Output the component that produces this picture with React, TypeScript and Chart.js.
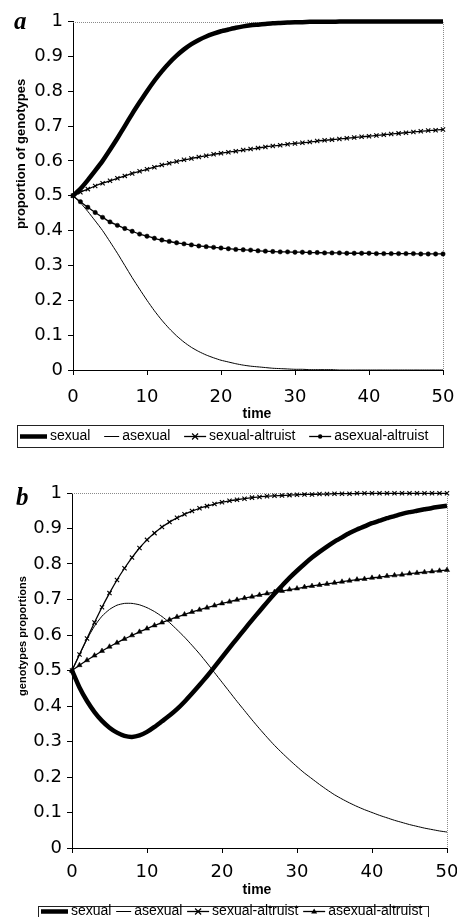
import React, { useEffect, useRef } from "react";
import { Chart, registerables } from "chart.js";

Chart.register(...registerables);

// ---------------- data ----------------
const TIME = [
  0, 1, 2, 3, 4, 5, 6, 7, 8, 9, 10, 11, 12, 13, 14, 15, 16, 17, 18, 19, 20, 21, 22, 23, 24, 25,
  26, 27, 28, 29, 30, 31, 32, 33, 34, 35, 36, 37, 38, 39, 40, 41, 42, 43, 44, 45, 46, 47, 48, 49, 50,
];

const A_SEXUAL = [
  0.5, 0.52, 0.545, 0.572, 0.6, 0.632, 0.665, 0.7, 0.735, 0.768, 0.8, 0.83, 0.857, 0.881, 0.902,
  0.92, 0.935, 0.947, 0.957, 0.965, 0.972, 0.977, 0.982, 0.986, 0.989, 0.991, 0.993, 0.995, 0.996,
  0.997, 0.998, 0.998, 0.999, 0.999, 0.999, 0.999, 1, 1, 1, 1, 1, 1, 1, 1, 1, 1, 1, 1, 1, 1, 1,
];
const A_ASEXUAL = [
  0.5, 0.48, 0.455, 0.428, 0.4, 0.368, 0.335, 0.3, 0.265, 0.232, 0.2, 0.17, 0.143, 0.119, 0.098,
  0.08, 0.065, 0.053, 0.043, 0.035, 0.028, 0.023, 0.018, 0.014, 0.011, 0.009, 0.007, 0.005, 0.004,
  0.003, 0.002, 0.002, 0.001, 0.001, 0.001, 0.001, 0, 0, 0, 0, 0, 0, 0, 0, 0, 0, 0, 0, 0, 0, 0,
];
const A_SEXUAL_ALTRUIST = [
  0.5, 0.51, 0.519, 0.528, 0.536, 0.543, 0.55, 0.557, 0.564, 0.57, 0.576, 0.582, 0.588, 0.593,
  0.598, 0.603, 0.607, 0.611, 0.615, 0.619, 0.622, 0.625, 0.628, 0.631, 0.634, 0.637, 0.64, 0.643,
  0.645, 0.648, 0.65, 0.652, 0.654, 0.657, 0.659, 0.661, 0.663, 0.665, 0.667, 0.669, 0.671, 0.673,
  0.675, 0.677, 0.679, 0.681, 0.683, 0.685, 0.687, 0.688, 0.69,
];
const A_ASEXUAL_ALTRUIST = [
  0.5, 0.483, 0.467, 0.452, 0.438, 0.425, 0.415, 0.406, 0.398, 0.39, 0.384, 0.378, 0.373, 0.369,
  0.365, 0.362, 0.359, 0.356, 0.354, 0.352, 0.35, 0.348, 0.346, 0.345, 0.344, 0.342, 0.341, 0.34,
  0.339, 0.339, 0.338, 0.338, 0.337, 0.337, 0.336, 0.336, 0.336, 0.335, 0.335, 0.335, 0.335, 0.334,
  0.334, 0.334, 0.334, 0.334, 0.334, 0.333, 0.333, 0.333, 0.333,
];

const B_SEXUAL = [
  0.5, 0.452, 0.414, 0.383, 0.358, 0.339, 0.325, 0.316, 0.313, 0.317, 0.327, 0.341, 0.357, 0.373,
  0.391, 0.412, 0.435, 0.459, 0.484, 0.51, 0.537, 0.564, 0.59, 0.616, 0.642, 0.667, 0.692, 0.716,
  0.739, 0.761, 0.781, 0.8, 0.818, 0.834, 0.849, 0.863, 0.875, 0.887, 0.897, 0.906, 0.915, 0.922,
  0.929, 0.935, 0.941, 0.946, 0.95, 0.954, 0.958, 0.961, 0.964,
];
const B_ASEXUAL = [
  0.5, 0.545, 0.588, 0.625, 0.653, 0.672, 0.684, 0.689, 0.689, 0.685, 0.677, 0.666, 0.652, 0.635,
  0.615, 0.594, 0.571, 0.547, 0.521, 0.494, 0.467, 0.44, 0.413, 0.387, 0.361, 0.336, 0.312, 0.289,
  0.268, 0.248, 0.229, 0.211, 0.195, 0.179, 0.164, 0.15, 0.138, 0.127, 0.117, 0.108, 0.1, 0.092,
  0.085, 0.078, 0.072, 0.066, 0.061, 0.056, 0.052, 0.048, 0.045,
];
const B_SEXUAL_ALTRUIST = [
  0.5, 0.545, 0.59, 0.635, 0.678, 0.718, 0.755, 0.788, 0.818, 0.845, 0.868, 0.887, 0.904, 0.918,
  0.93, 0.94, 0.949, 0.957, 0.963, 0.969, 0.974, 0.978, 0.981, 0.984, 0.987, 0.989, 0.991, 0.992,
  0.993, 0.994, 0.995, 0.996, 0.996, 0.997, 0.997, 0.998, 0.998, 0.998, 0.999, 0.999, 0.999, 0.999,
  0.999, 0.999, 0.999, 0.999, 0.999, 0.999, 0.999, 0.999, 0.999,
];
const B_ASEXUAL_ALTRUIST = [
  0.5, 0.515, 0.529, 0.542, 0.555, 0.567, 0.578, 0.589, 0.599, 0.609, 0.618, 0.627, 0.635, 0.643,
  0.651, 0.658, 0.665, 0.671, 0.677, 0.683, 0.689, 0.694, 0.699, 0.704, 0.708, 0.713, 0.717, 0.721,
  0.724, 0.728, 0.731, 0.735, 0.738, 0.741, 0.744, 0.747, 0.75, 0.753, 0.756, 0.758, 0.761, 0.763,
  0.766, 0.768, 0.77, 0.773, 0.775, 0.777, 0.779, 0.781, 0.783,
];

const Y_TICKS = [0, 0.1, 0.2, 0.3, 0.4, 0.5, 0.6, 0.7, 0.8, 0.9, 1];
const X_TICKS = [0, 10, 20, 30, 40, 50];
const SERIES_LABELS = ["sexual", "asexual", "sexual-altruist", "asexual-altruist"];
const X_TITLE = "time";

// ---------------- styles ----------------
const FONT = "'Liberation Sans', Arial, Helvetica, sans-serif";
const TICK_FONT = "'DejaVu Sans', 'Liberation Sans', sans-serif";
const SERIF = "'Liberation Serif', 'Times New Roman', serif";
const W = 457;

type Panel = {
  height: number;
  plot: { left: number; right: number; top: number; bottom: number };
  xAxisH: number;
  tickPad: number;
  label: string;
  labelPos: [number, number];
  labelSize: number;
  yTitle: string;
  yTitlePos: [number, number];
  yTitleSize: number;
  xTitlePos: [number, number];
  xTitleSize: number;
  legendBox: [number, number, number, number];
  legendTextY: number;
  legendFont: number;
  altMarker: "circle" | "triangle";
  series: number[][];
};

const PANEL_A: Panel = {
  height: 460,
  plot: { left: 73, right: 443, top: 21.5, bottom: 370 },
  xAxisH: 50,
  tickPad: 12,
  label: "a",
  labelPos: [14, 29],
  labelSize: 25,
  yTitle: "proportion of genotypes",
  yTitlePos: [21, 154],
  yTitleSize: 13,
  xTitlePos: [257, 414],
  xTitleSize: 14,
  legendBox: [17, 425, 426, 22],
  legendTextY: 436.5,
  legendFont: 14,
  altMarker: "circle",
  series: [A_SEXUAL, A_ASEXUAL, A_SEXUAL_ALTRUIST, A_ASEXUAL_ALTRUIST],
};

const PANEL_B: Panel = {
  height: 457,
  plot: { left: 72, right: 447, top: 33, bottom: 388 },
  xAxisH: 50,
  tickPad: 9,
  label: "b",
  labelPos: [16, 45],
  labelSize: 25,
  yTitle: "genotypes proportions",
  yTitlePos: [23, 176],
  yTitleSize: 11,
  xTitlePos: [257, 430],
  xTitleSize: 14,
  legendBox: [38, 446, 390, 22],
  legendTextY: 451.5,
  legendFont: 14,
  altMarker: "triangle",
  series: [B_SEXUAL, B_ASEXUAL, B_SEXUAL_ALTRUIST, B_ASEXUAL_ALTRUIST],
};

function drawMarker(ctx: CanvasRenderingContext2D, kind: string, x: number, y: number) {
  ctx.save();
  ctx.strokeStyle = "#000";
  ctx.fillStyle = "#000";
  ctx.lineWidth = 1.2;
  ctx.beginPath();
  if (kind === "crossRot") {
    const r = 3;
    ctx.moveTo(x - r, y - r);
    ctx.lineTo(x + r, y + r);
    ctx.moveTo(x - r, y + r);
    ctx.lineTo(x + r, y - r);
    ctx.stroke();
  } else if (kind === "circle") {
    ctx.arc(x, y, 2.2, 0, Math.PI * 2);
    ctx.fill();
  } else {
    const r = 3;
    ctx.moveTo(x, y - r);
    ctx.lineTo(x + r, y + r * 0.7);
    ctx.lineTo(x - r, y + r * 0.7);
    ctx.closePath();
    ctx.fill();
  }
  ctx.restore();
}

function decorPlugin(p: Panel) {
  return {
    id: "decor",
    beforeDatasetsDraw(chart: any) {
      const { ctx, chartArea: a } = chart;
      ctx.save();
      ctx.strokeStyle = "#8a8a8a";
      ctx.lineWidth = 1;
      ctx.setLineDash([1, 1]);
      ctx.beginPath();
      ctx.moveTo(a.left, Math.round(a.top) + 0.5);
      ctx.lineTo(Math.round(a.right) + 0.5, Math.round(a.top) + 0.5);
      ctx.lineTo(Math.round(a.right) + 0.5, a.bottom);
      ctx.stroke();
      ctx.restore();
    },
    afterDraw(chart: any) {
      const ctx: CanvasRenderingContext2D = chart.ctx;
      ctx.save();
      ctx.fillStyle = "#000";
      // panel label
      ctx.font = `italic bold ${p.labelSize}px ${SERIF}`;
      ctx.textAlign = "left";
      ctx.textBaseline = "alphabetic";
      ctx.fillText(p.label, p.labelPos[0], p.labelPos[1]);
      // y title
      ctx.save();
      ctx.translate(p.yTitlePos[0], p.yTitlePos[1]);
      ctx.rotate(-Math.PI / 2);
      ctx.font = `bold ${p.yTitleSize}px ${FONT}`;
      ctx.textAlign = "center";
      ctx.textBaseline = "middle";
      ctx.fillText(p.yTitle, 0, 0);
      ctx.restore();
      // x title
      ctx.font = `bold ${p.xTitleSize}px ${FONT}`;
      ctx.textAlign = "center";
      ctx.textBaseline = "middle";
      ctx.fillText(X_TITLE, p.xTitlePos[0], p.xTitlePos[1]);
      // legend
      const [bx, by, bw, bh] = p.legendBox;
      ctx.strokeStyle = "#222";
      ctx.lineWidth = 1;
      ctx.strokeRect(bx + 0.5, by + 0.5, bw, bh);
      ctx.font = `${p.legendFont}px ${FONT}`;
      const samples = [27, 15, 22, 22];
      const widths = SERIES_LABELS.map((t) => ctx.measureText(t).width);
      const content = samples.reduce((s, v) => s + v, 0) + widths.reduce((s, v) => s + v, 0) + 4 * 3;
      const gap = (bw - 4 - content) / 4;
      let x = bx + 3;
      const cy = p.legendTextY;
      ctx.textAlign = "left";
      ctx.textBaseline = "middle";
      SERIES_LABELS.forEach((t, i) => {
        const L = samples[i];
        ctx.beginPath();
        ctx.strokeStyle = "#000";
        ctx.lineWidth = i === 0 ? 4.5 : i === 1 ? 1 : 1.3;
        ctx.moveTo(x, cy);
        ctx.lineTo(x + L, cy);
        ctx.stroke();
        if (i === 2) drawMarker(ctx, "crossRot", x + L / 2, cy);
        if (i === 3) drawMarker(ctx, p.altMarker, x + L / 2, cy);
        ctx.fillText(t, x + L + 3, cy);
        x += L + 3 + widths[i] + gap;
      });
      ctx.restore();
    },
  };
}

function makeChart(canvas: HTMLCanvasElement, p: Panel) {
  const pts = (arr: number[]) => TIME.map((t, i) => ({ x: t, y: arr[i] }));
  const [sx, asx, sa, asa] = p.series;
  return new Chart(canvas, {
    type: "line",
    data: {
      datasets: [
        {
          label: SERIES_LABELS[0],
          data: pts(sx),
          borderColor: "#000",
          borderWidth: 4.5,
          pointRadius: 0,
          tension: 0.2,
          clip: false,
          order: 1,
        },
        {
          label: SERIES_LABELS[1],
          data: pts(asx),
          borderColor: "#000",
          borderWidth: 1,
          pointRadius: 0,
          tension: 0.2,
          clip: false,
          order: 2,
        },
        {
          label: SERIES_LABELS[2],
          data: pts(sa),
          borderColor: "#000",
          borderWidth: 1.3,
          pointStyle: "crossRot",
          pointRadius: 3,
          pointBorderWidth: 1.1,
          pointBorderColor: "#000",
          pointBackgroundColor: "#000",
          tension: 0.2,
          clip: false,
          order: 3,
        },
        {
          label: SERIES_LABELS[3],
          data: pts(asa),
          borderColor: "#000",
          borderWidth: 1.3,
          pointStyle: p.altMarker,
          pointRadius: p.altMarker === "circle" ? 2.2 : 3,
          pointBorderWidth: 0.5,
          pointBorderColor: "#000",
          pointBackgroundColor: "#000",
          tension: 0.2,
          clip: false,
          order: 4,
        },
      ],
    },
    options: {
      animation: false,
      responsive: false,
      maintainAspectRatio: false,
      devicePixelRatio: 1,
      events: [],
      layout: {
        padding: {
          left: 0,
          right: W - p.plot.right,
          top: p.plot.top,
          bottom: p.height - p.plot.bottom - p.xAxisH,
        },
      },
      plugins: { legend: { display: false }, tooltip: { enabled: false }, title: { display: false } },
      scales: {
        x: {
          type: "linear",
          min: 0,
          max: 50,
          afterBuildTicks: (s: any) => {
            s.ticks = X_TICKS.map((v) => ({ value: v }));
          },
          afterFit: (s: any) => {
            s.height = p.xAxisH;
            s.paddingLeft = 0;
            s.paddingRight = 0;
          },
          ticks: {
            color: "#000",
            font: { family: TICK_FONT, size: 18 },
            padding: p.tickPad,
            maxRotation: 0,
            autoSkip: false,
            callback: (v: any) => String(v),
          },
          grid: { display: true, drawOnChartArea: false, drawTicks: true, tickLength: 5, color: "#000", lineWidth: 1 },
          border: { display: true, color: "#000", width: 1 },
        },
        y: {
          type: "linear",
          min: 0,
          max: 1,
          afterBuildTicks: (s: any) => {
            s.ticks = Y_TICKS.map((v) => ({ value: v }));
          },
          afterFit: (s: any) => {
            s.width = p.plot.left;
            s.paddingTop = 0;
            s.paddingBottom = 0;
          },
          ticks: {
            color: "#000",
            font: { family: TICK_FONT, size: 18 },
            padding: 5,
            autoSkip: false,
            callback: (v: any) => String(Math.round(Number(v) * 10) / 10),
          },
          grid: { display: true, drawOnChartArea: false, drawTicks: true, tickLength: 5, color: "#000", lineWidth: 1 },
          border: { display: true, color: "#000", width: 1 },
        },
      },
    } as any,
    plugins: [decorPlugin(p) as any],
  });
}

export default function App() {
  const refA = useRef<HTMLCanvasElement | null>(null);
  const refB = useRef<HTMLCanvasElement | null>(null);

  useEffect(() => {
    const ca = makeChart(refA.current!, PANEL_A);
    const cb = makeChart(refB.current!, PANEL_B);
    return () => {
      ca.destroy();
      cb.destroy();
    };
  }, []);

  return (
    <div style={{ position: "absolute", left: 0, top: 0, width: W, height: 917, background: "#fff", overflow: "hidden" }}>
      <canvas
        ref={refA}
        width={W}
        height={PANEL_A.height}
        style={{ position: "absolute", left: 0, top: 0, width: W, height: PANEL_A.height }}
      />
      <canvas
        ref={refB}
        width={W}
        height={PANEL_B.height}
        style={{ position: "absolute", left: 0, top: 460, width: W, height: PANEL_B.height }}
      />
    </div>
  );
}
